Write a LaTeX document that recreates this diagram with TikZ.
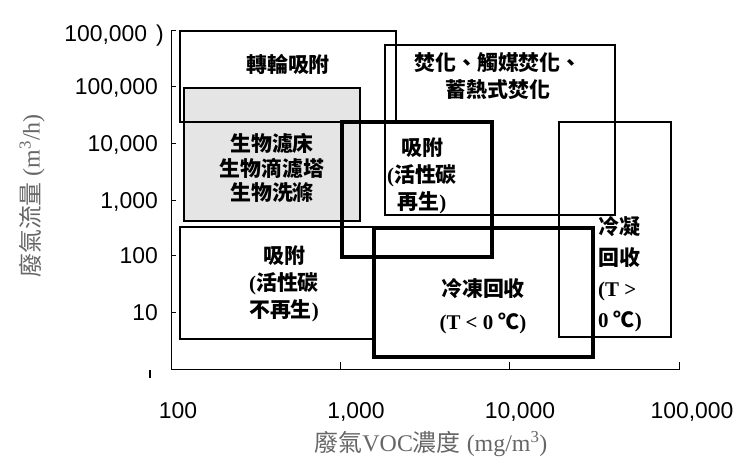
\documentclass[tikz,border=0pt]{standalone}
\usepackage{fontspec}
\setmainfont{Liberation Serif}
\setsansfont{Liberation Sans}
\newfontfamily\cjk{Noto Sans CJK TC}
\newcommand{\zh}[1]{{\cjk #1}}

\begin{document}
\begin{tikzpicture}[x=1bp,y=-1bp,
  ticklbl/.style={font=\sffamily\fontsize{23}{23}\selectfont,inner sep=0pt,text depth=0pt},
  axlbl/.style={font=\fontsize{24}{24}\selectfont,text=black!60,inner sep=0pt},
  boxtxt/.style={font=\bfseries\fontsize{21}{27}\selectfont,align=center,inner sep=0pt},
  thinbox/.style={line width=1.2bp},
  midbox/.style={line width=2bp},
  thickbox/.style={line width=3.5bp}]
\useasboundingbox (0,0) rectangle (741,468);
% axes
\draw[line width=1bp] (176,31)--(171,31)--(171,369)--(679,369)--(679,362);
\foreach \ty in {87,144,201,256,313} \draw[line width=1bp] (171,\ty)--(176,\ty);
\foreach \tx in {340,509} \draw[line width=1bp] (\tx,369)--(\tx,362);
\draw[line width=2.5bp] (150,370)--(150,378);
% tick labels
\node[ticklbl,anchor=east] (ytop) at (164,33) {100,000\hspace{9bp})};
\foreach \ty/\lbl in {87/{100,000},144/{10,000},201/{1,000},256/{100},313/{10}}
  \node[ticklbl,anchor=east] (y\ty) at (158,\ty) {\lbl};
\foreach \tx/\lbl in {178/{100},356/{1,000},520/{10,000},692/{100,000}}
  \node[ticklbl] (x\tx) at (\tx,410) {\lbl};
% axis titles
\node[axlbl] (xlab) at (431,444) {\zh{廢氣}VOC\zh{濃度} (mg/m\textsuperscript{3})};
\node[axlbl,rotate=90] (ylab) at (32,196) {\zh{廢氣流量} (m\textsuperscript{3}/h)};
% ranges
\filldraw[fill=black!10,midbox] (184,88) rectangle (360,221);
\draw[midbox] (180,31) rectangle (396,122);
\draw[midbox] (385,45) rectangle (615,215);
\draw[thickbox] (342,122) rectangle (492,257);
\draw[midbox] (559,122) rectangle (671,337);
\draw[thinbox] (180,227) rectangle (374,339);
\draw[thickbox] (374,228) rectangle (593,357);
% range names
\node[boxtxt] (rotor) at (288,64) {\zh{轉輪吸附}};
\node[boxtxt,font=\bfseries\fontsize{21}{25}\selectfont] (bio) at (272,168)
  {\zh{生物濾床}\\\zh{生物滴濾塔}\\\zh{生物洗滌}};
\node[boxtxt] (incin) at (498,76.5) {\zh{焚化、觸媒焚化、}\\\zh{蓄熱式焚化}};
\node[boxtxt] (adsregen) at (422,176) {\zh{吸附}\\(\zh{活性碳}\\\zh{再生})};
\node[boxtxt] (adsonce) at (284,284) {\zh{吸附}\\(\zh{活性碳}\\\zh{不再生})};
\node[boxtxt,font=\bfseries\fontsize{21}{33}\selectfont] (freeze) at (483,306)
  {\zh{冷凍回收}\\(T < 0 \zh{℃})};
\node[boxtxt,align=left,anchor=west,font=\bfseries\fontsize{21}{31}\selectfont] (cond) at (598,274)
  {\zh{冷凝}\\\zh{回收}\\(T >\\0 \zh{℃})};
\end{tikzpicture}
\end{document}
